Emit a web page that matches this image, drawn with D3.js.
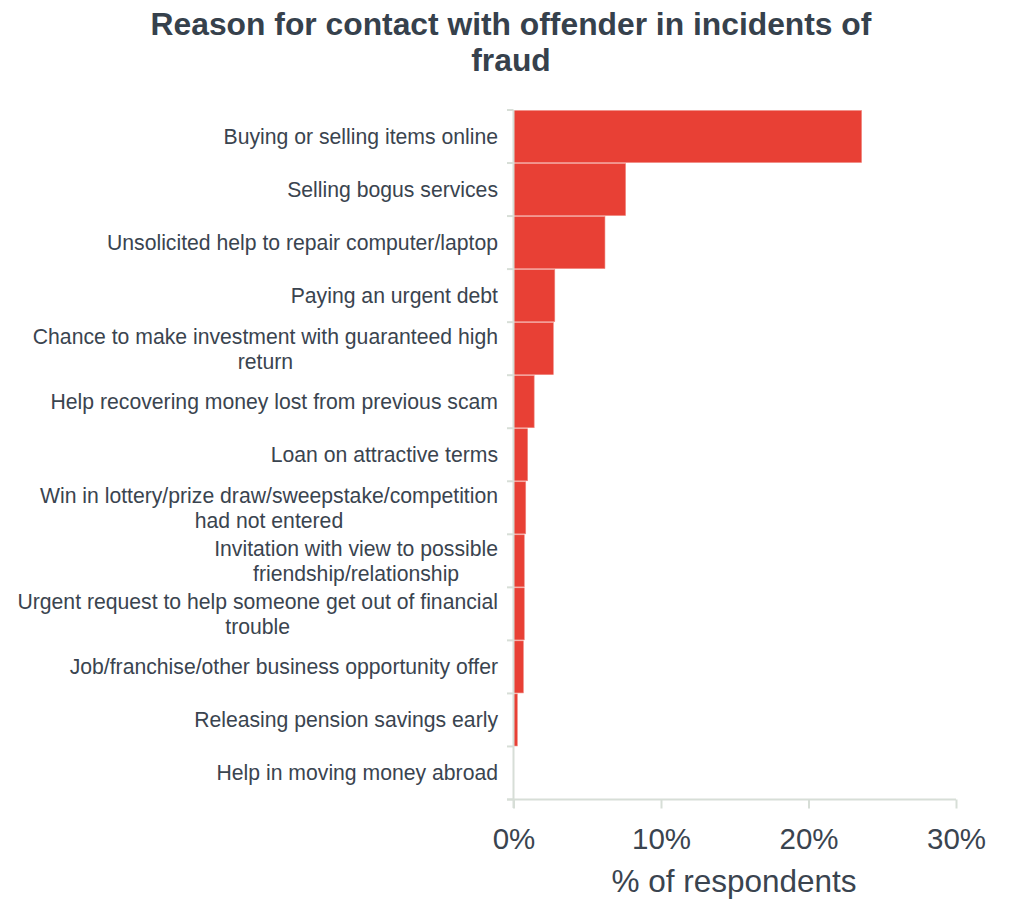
<!DOCTYPE html>
<html><head><meta charset="utf-8">
<script src="https://cdn.jsdelivr.net/npm/d3@7"></script>
<style>body{margin:0;background:#fff}</style>
</head><body><svg id="c" width="1018" height="902"></svg>
<script>
const categories = [
  "Buying or selling items online",
  "Selling bogus services",
  "Unsolicited help to repair computer/laptop",
  "Paying an urgent debt",
  "Chance to make investment with guaranteed high\nreturn",
  "Help recovering money lost from previous scam",
  "Loan on attractive terms",
  "Win in lottery/prize draw/sweepstake/competition\nhad not entered",
  "Invitation with view to possible\nfriendship/relationship",
  "Urgent request to help someone get out of financial\ntrouble",
  "Job/franchise/other business opportunity offer",
  "Releasing pension savings early",
  "Help in moving money abroad"
];
const values = [23.6, 7.6, 6.2, 2.8, 2.7, 1.4, 0.96, 0.83, 0.73, 0.73, 0.67, 0.26, 0];
const xTicks = [0, 10, 20, 30];
const titleLines = ["Reason for contact with offender in incidents of", "fraud"];
const xTitle = "% of respondents";

(function () {
const svg = d3.select("#c");
const mLeft = 513.5, mRight = 956, mTop = 110, mBottom = 799.5;
const x = d3.scaleLinear().domain([0, 30]).range([mLeft, mRight]);
const y = d3.scaleBand().domain(categories).range([mTop, mBottom]).paddingInner(0).paddingOuter(0);
const axisColor = "#d7ded7";
const textColor = "#3a444f";
const font = "'Liberation Sans', Arial, sans-serif";

// title
svg.append("text").attr("x", 511).attr("y", 35).attr("text-anchor", "middle")
  .style("font-family", font).style("font-weight", "bold").style("font-size", "31.8px").attr("fill", "#36414c")
  .selectAll("tspan").data(titleLines).join("tspan")
  .attr("x", 511).attr("dy", (d, i) => i ? 36 : 0).text(d => d);

// bars
svg.append("g").selectAll("rect").data(categories).join("rect")
  .attr("x", x(0)).attr("y", d => y(d) + 0.5)
  .attr("width", (d, i) => Math.max(0, x(values[i]) - x(0)))
  .attr("height", y.bandwidth() - 1)
  .attr("fill", "#e84035").attr("stroke", "#f08a82").attr("stroke-width", 0.6);

// y axis
const yAxisG = svg.append("g");
yAxisG.append("line").attr("x1", mLeft).attr("x2", mLeft).attr("y1", mTop).attr("y2", 808)
  .attr("stroke", axisColor).attr("stroke-width", 2);
const boundaries = categories.map(c => y(c)).concat([mBottom]);
yAxisG.selectAll("line.t").data(boundaries).join("line").attr("class", "t")
  .attr("x1", 507).attr("x2", mLeft).attr("y1", d => d).attr("y2", d => d)
  .attr("stroke", axisColor).attr("stroke-width", 2);

// x axis
const xAxis = d3.axisBottom(x).tickValues(xTicks).tickFormat(d => d + "%").tickSize(9).tickPadding(16);
const xg = svg.append("g").attr("transform", `translate(0,${mBottom})`).call(xAxis);
xg.select(".domain").remove();
xg.append("line").attr("x1", 507).attr("x2", mRight).attr("y1", 0).attr("y2", 0)
  .attr("stroke", axisColor).attr("stroke-width", 2);
xg.selectAll(".tick line").attr("stroke", axisColor).attr("stroke-width", 2);
xg.selectAll(".tick text").attr("y", 49.5).attr("dy", 0)
  .style("font-family", font).style("font-size", "29.5px").attr("fill", textColor);

svg.append("text").attr("x", 734).attr("y", 892).attr("text-anchor", "middle")
  .style("font-family", font).style("font-size", "31.5px").attr("fill", textColor).text(xTitle);

// category labels
const lab = svg.append("g").selectAll("text").data(categories).join("text")
  .style("font-family", font).style("font-size", "21.2px").attr("fill", textColor);
lab.each(function(d) {
  const lines = d.split("\n");
  const t = d3.select(this);
  const cy = y(d) + y.bandwidth() / 2;
  const lh = 25;
  lines.forEach((ln, i) => {
    t.append("tspan").attr("y", cy + (i - (lines.length - 1) / 2) * lh).attr("dy", "0.35em").text(ln);
  });
  const widths = [];
  t.selectAll("tspan").each(function() { widths.push(this.getComputedTextLength()); });
  const maxW = d3.max(widths);
  t.selectAll("tspan").attr("text-anchor", "middle").attr("x", 498 - maxW / 2);
});
})();
</script></body></html>
